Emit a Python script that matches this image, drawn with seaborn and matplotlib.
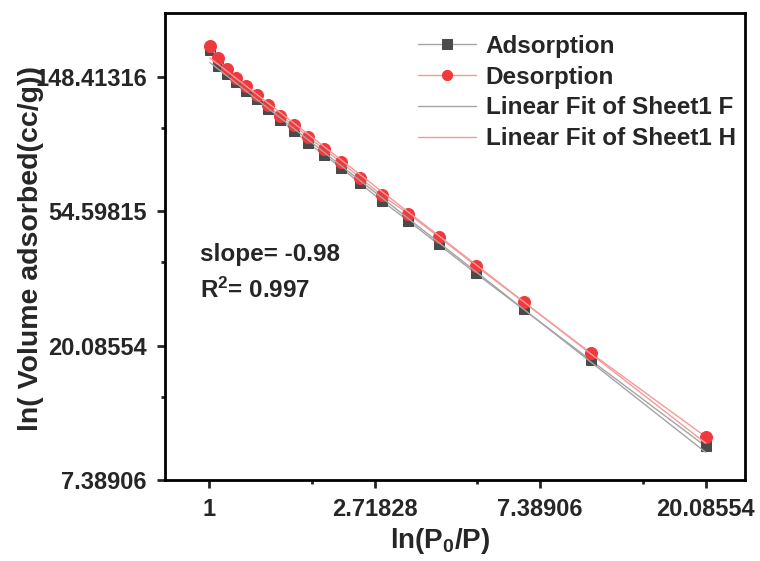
import numpy as np
import seaborn as sns
import matplotlib.pyplot as plt
from matplotlib.ticker import FixedLocator, FixedFormatter, NullFormatter

# ln(P0/P) values (x) and volumes adsorbed (y)
x_vals = [1.006, 1.054, 1.113, 1.177, 1.252, 1.334, 1.430, 1.534, 1.670, 1.817,
          2.002, 2.221, 2.492, 2.840, 3.333, 4.000, 5.010, 6.680, 10.04, 20.05]
adsorption = [181.4, 161.4, 151.8, 142.7, 133.8, 125.7, 117.0, 107.8, 99.5, 91.0,
              83.2, 75.6, 67.2, 59.0, 50.9, 42.7, 34.4, 26.3, 18.0, 9.5]
desorption = [187.0, 171.4, 157.6, 147.7, 138.5, 129.5, 120.5, 111.0, 103.9, 95.1,
              86.8, 78.7, 70.1, 61.5, 53.7, 45.2, 36.4, 27.8, 19.0, 10.2]

x_ticks = [1, 2.71828, 7.38906, 20.08554]
x_ticklabels = ['1', '2.71828', '7.38906', '20.08554']
y_ticks = [7.38906, 20.08554, 54.59815, 148.41316]
y_ticklabels = ['7.38906', '20.08554', '54.59815', '148.41316']

sns.set_theme(style='ticks')
plt.rcParams['font.family'] = ['Liberation Sans', 'DejaVu Sans']
plt.rcParams['font.weight'] = 'bold'
plt.rcParams['mathtext.default'] = 'regular'

fig = plt.figure(figsize=(7.6, 5.61), dpi=100)
ax = fig.add_axes([0.217, 0.1444, 0.763, 0.8324])

grey_dark = '#4a4a4a'
grey_line = '#a4a4a4'
red = '#f0393d'
red_line = '#f59a9a'

# linear fits in log-log space
lx = np.log(x_vals)
fa = np.polyfit(lx, np.log(adsorption), 1)
fd = np.polyfit(lx, np.log(desorption), 1)
fit_x = np.array([x_vals[0], x_vals[-1]])

sns.lineplot(x=x_vals, y=adsorption, ax=ax, color=grey_line, lw=1.0, marker='s',
             markersize=7.8, markerfacecolor=grey_dark, markeredgecolor=grey_dark,
             label='Adsorption')
sns.lineplot(x=x_vals, y=desorption, ax=ax, color=red_line, lw=1.0, marker='o',
             markersize=8.6, markerfacecolor=red, markeredgecolor=red,
             label='Desorption')
sns.lineplot(x=fit_x, y=np.exp(np.polyval(fa, np.log(fit_x))), ax=ax,
             color=grey_line, lw=1.0, label='Linear Fit of Sheet1 F')
sns.lineplot(x=fit_x, y=np.exp(np.polyval(fd, np.log(fit_x))), ax=ax,
             color=red_line, lw=1.0, label='Linear Fit of Sheet1 H')

ax.set_xscale('log', base=np.e)
ax.set_yscale('log', base=np.e)
ax.set_xlim(np.exp(-0.266), np.exp(3.235))
ax.set_ylim(np.exp(2.0), np.exp(5.477))

ax.xaxis.set_major_locator(FixedLocator(x_ticks))
ax.xaxis.set_major_formatter(FixedFormatter(x_ticklabels))
ax.yaxis.set_major_locator(FixedLocator(y_ticks))
ax.yaxis.set_major_formatter(FixedFormatter(y_ticklabels))
x_minor = [(a + b) / 2 for a, b in zip(x_ticks[:-1], x_ticks[1:])]
y_minor = [(a + b) / 2 for a, b in zip(y_ticks[:-1], y_ticks[1:])]
ax.xaxis.set_minor_locator(FixedLocator(x_minor))
ax.yaxis.set_minor_locator(FixedLocator(y_minor))
ax.xaxis.set_minor_formatter(NullFormatter())
ax.yaxis.set_minor_formatter(NullFormatter())

ax.tick_params(which='major', length=6, width=2, labelsize=17, direction='out', pad=7)
ax.tick_params(which='minor', length=3, width=2, direction='out')
for lab in ax.get_xticklabels() + ax.get_yticklabels():
    lab.set_fontweight('bold')
for s in ax.spines.values():
    s.set_linewidth(2)
    s.set_color('black')

ax.set_xlabel('ln(P$_0$/P)', fontsize=20, fontweight='bold')
ax.set_ylabel('ln( Volume adsorbed(cc/g))', fontsize=20.5, fontweight='bold')
ax.xaxis.set_label_coords(0.4744, -0.098)
ax.yaxis.set_label_coords(-0.209, 0.495)

ax.text(0.06, 0.482, 'slope= -0.98', transform=ax.transAxes, fontsize=17.5,
        fontweight='bold', va='center')
ax.text(0.06, 0.407, 'R$^2$= 0.997', transform=ax.transAxes, fontsize=17.5,
        fontweight='bold', va='center')

leg = ax.legend(loc='upper right', bbox_to_anchor=(1.022, 1.0), frameon=False,
                prop={'size': 17.5, 'weight': 'bold'}, handlelength=2.4,
                labelspacing=0.32, handletextpad=0.4, markerscale=0.85)

fig.savefig('out.png', dpi=100)
